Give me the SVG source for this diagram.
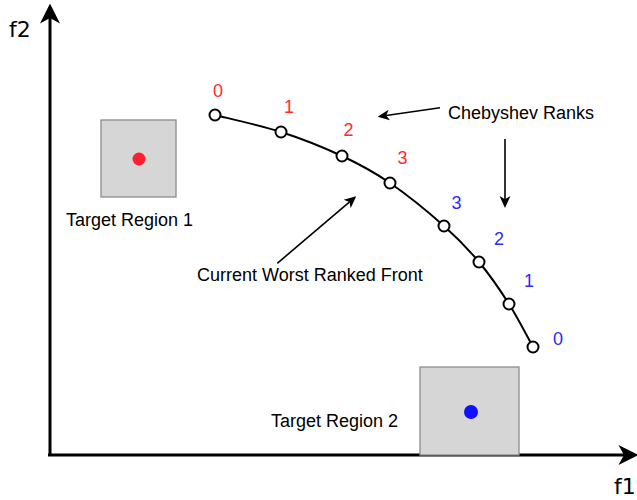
<svg xmlns="http://www.w3.org/2000/svg" width="637" height="500" viewBox="0 0 637 500">
<style>
.lbl{font-family:"Liberation Sans",Arial,Helvetica,sans-serif;font-size:18px;fill:#000}
.red{font-family:"Liberation Sans",Arial,Helvetica,sans-serif;font-size:18px;fill:#ff2a2a;text-anchor:middle}
.blue{font-family:"Liberation Sans",Arial,Helvetica,sans-serif;font-size:18px;fill:#2a2aff;text-anchor:middle}
.axl{font-family:"DejaVu Sans",Verdana,sans-serif;font-size:22px;fill:#000}
.axis{stroke:#000;stroke-width:3;fill:none}
.ann{stroke:#000;stroke-width:1.6;fill:none}
.pt{fill:#fff;stroke:#000;stroke-width:2}
.region{fill:#d6d6d6;stroke:#8c8c8c;stroke-width:1.3}
</style>
<defs>
<marker id="axArrow" markerUnits="userSpaceOnUse" markerWidth="20" markerHeight="20" viewBox="0 0 18 18" refX="5" refY="9" orient="auto">
<path d="M0,0 L18,9 L0,18 L5,9 Z" fill="#000"/>
</marker>
<marker id="annArrow" markerUnits="userSpaceOnUse" markerWidth="12" markerHeight="12" viewBox="0 0 11 10" refX="3" refY="5" orient="auto">
<path d="M0,0 L11,5 L0,10 L3,5 Z" fill="#000"/>
</marker>
</defs>

<g id="axes">
<line class="axis" x1="50" y1="456" x2="50" y2="18" marker-end="url(#axArrow)"/>
<line class="axis" x1="48" y1="455" x2="624" y2="455" marker-end="url(#axArrow)"/>
<text class="axl" x="9" y="37">f2</text>
<text class="axl" x="614" y="494">f1</text>
</g>

<g id="target-region-1">
<rect class="region" x="101" y="120" width="75" height="77"/>
<circle cx="139" cy="159" r="6.5" fill="#ff1f2f"/>
<text class="lbl" x="66" y="226">Target Region 1</text>
</g>

<g id="target-region-2">
<rect class="region" x="420" y="367" width="99" height="88"/>
<circle cx="471" cy="412" r="7" fill="#1010ff"/>
<text class="lbl" x="271" y="427">Target Region 2</text>
</g>

<g id="connectors">
<path d="M215,115 C226,117.8 259.8,125.2 281,132 C302.2,138.8 323.8,147.5 342,156 C360.2,164.5 373,171.3 390,183 C407,194.7 429.2,212.8 444,226 C458.8,239.2 468.2,249 479,262 C489.8,275 500,289.8 509,304 C518,318.2 529,339.8 533,347" fill="none" stroke="#000" stroke-width="2"/>
<line class="ann" x1="440" y1="107.7" x2="386.2" y2="115.5" marker-end="url(#annArrow)"/>
<line class="ann" x1="505" y1="139" x2="505" y2="199.3" marker-end="url(#annArrow)"/>
<line class="ann" x1="277.3" y1="263.3" x2="349.6" y2="201.9" marker-end="url(#annArrow)"/>
</g>

<g id="front-points">
<circle class="pt" cx="215" cy="115" r="5.5"/>
<circle class="pt" cx="281" cy="132" r="5.5"/>
<circle class="pt" cx="342" cy="156" r="5.5"/>
<circle class="pt" cx="390" cy="183" r="5.5"/>
<circle class="pt" cx="444" cy="226" r="5.5"/>
<circle class="pt" cx="479" cy="262" r="5.5"/>
<circle class="pt" cx="509" cy="304" r="5.5"/>
<circle class="pt" cx="533" cy="347" r="5.5"/>
</g>

<g id="red-ranks">
<text class="red" x="218" y="97">0</text>
<text class="red" x="289" y="112.5">1</text>
<text class="red" x="348.5" y="135.5">2</text>
<text class="red" x="402.5" y="164">3</text>
</g>

<g id="blue-ranks">
<text class="blue" x="456.5" y="209">3</text>
<text class="blue" x="499" y="245">2</text>
<text class="blue" x="529" y="287">1</text>
<text class="blue" x="558" y="345">0</text>
</g>

<g id="chebyshev-label">
<text class="lbl" x="448" y="119">Chebyshev Ranks</text>
</g>

<g id="worst-front-label">
<text class="lbl" x="197" y="281">Current Worst Ranked Front</text>
</g>
</svg>
